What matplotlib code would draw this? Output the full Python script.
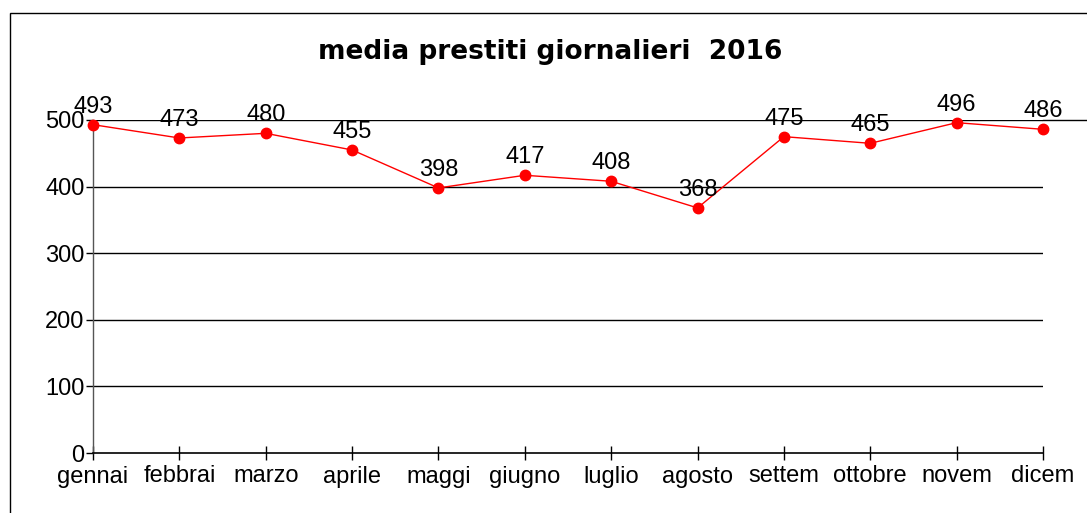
import matplotlib
matplotlib.use("Agg")
import matplotlib.pyplot as plt
from matplotlib.patches import Rectangle
from matplotlib.lines import Line2D

months = ["gennai", "febbrai", "marzo", "aprile", "maggi", "giugno",
          "luglio", "agosto", "settem", "ottobre", "novem", "dicem"]
values = [493, 473, 480, 455, 398, 417, 408, 368, 475, 465, 496, 486]
yticks = [0, 100, 200, 300, 400, 500]
title = "media prestiti giornalieri  2016"

plt.rcParams['font.family'] = ['Liberation Sans', 'DejaVu Sans']

W, H = 1087, 513
fig = plt.figure(figsize=(W / 100, H / 100), dpi=100)
fig.patch.set_facecolor("white")

# outer chart frame (left and top edges visible)
fig.add_artist(Rectangle((10 / W, -0.1), 1.2, (H - 13) / H + 0.1,
                         transform=fig.transFigure, fill=False,
                         edgecolor="black", linewidth=1.0))

left, right = 93 / W, 1043 / W
bottom, top = 1 - 453 / H, 1 - 120 / H
ax = fig.add_axes([left, bottom, right - left, top - bottom])

x = list(range(len(months)))
ax.plot(x, values, color="#ff0000", linewidth=1.0, marker="o",
        markersize=7.5, markerfacecolor="#ff0000", markeredgecolor="#ff0000",
        zorder=5, clip_on=False)
for xi, v in zip(x, values):
    ax.annotate(str(v), (xi, v), xytext=(0, 5), textcoords="offset points",
                ha="center", va="bottom", fontsize=17, color="black", zorder=6)

ax.set_xlim(0, len(months) - 1)
ax.set_ylim(0, 500)
ax.set_yticks(yticks)
ax.set_yticklabels([str(t) for t in yticks])
ax.set_xticks(x)
ax.set_xticklabels(months)

for t in yticks[1:]:
    ax.axhline(t, color="black", linewidth=1.0, zorder=1)
# top gridline extends past plot area
fig.add_artist(Line2D([right, 1.0], [top, top], transform=fig.transFigure,
                      color="black", linewidth=1.0))

for s in ["top", "right"]:
    ax.spines[s].set_visible(False)
ax.spines["left"].set_color("#555555")
ax.spines["left"].set_linewidth(1.0)
ax.spines["bottom"].set_color("black")
ax.spines["bottom"].set_linewidth(1.2)

ax.tick_params(axis="y", direction="out", length=5, width=1, pad=1,
               labelsize=17, colors="black")
ax.tick_params(axis="x", direction="inout", length=10, width=1, pad=4,
               labelsize=17, colors="black")

fig.text(550 / W, 1 - 52 / H, title, ha="center", va="center",
         fontsize=19, fontweight="bold", family=["DejaVu Sans"])

fig.savefig("out.png", dpi=100, facecolor="white")
